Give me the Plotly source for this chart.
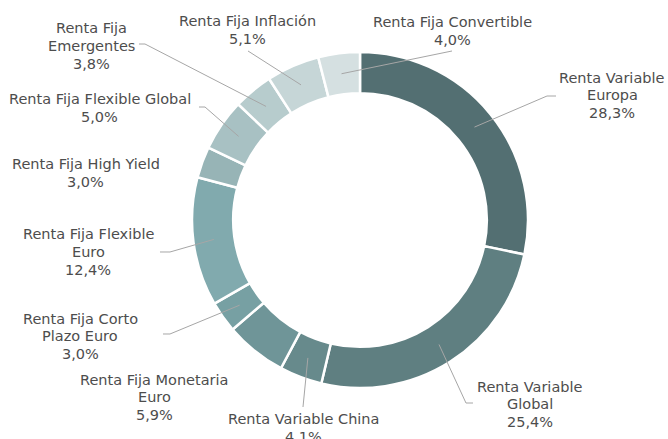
import math
import plotly.graph_objects as go

categories = [
    "Renta Variable Europa", "Renta Variable Global", "Renta Variable China",
    "Renta Fija Monetaria Euro", "Renta Fija Corto Plazo Euro", "Renta Fija Flexible Euro",
    "Renta Fija High Yield", "Renta Fija Flexible Global", "Renta Fija Emergentes",
    "Renta Fija Inflación", "Renta Fija Convertible",
]
values = [28.3, 25.4, 4.1, 5.9, 3.0, 12.4, 3.0, 5.0, 3.8, 5.1, 4.0]
label_lines = [
    ["Renta Variable", "Europa"], ["Renta Variable", "Global"], ["Renta Variable China"],
    ["Renta Fija Monetaria", "Euro"], ["Renta Fija Corto", "Plazo Euro"], ["Renta Fija Flexible", "Euro"],
    ["Renta Fija High Yield"], ["Renta Fija Flexible Global"], ["Renta Fija", "Emergentes"],
    ["Renta Fija Inflación"], ["Renta Fija Convertible"],
]
colors = ["#536f72", "#5f7f81", "#678a8c", "#6f9598", "#77a0a3", "#81aaae",
          "#97b4b6", "#a8c1c3", "#b7cccd", "#c6d6d7", "#d5e0e1"]

W, H = 668, 439
CX, CY, R_OUT, HOLE = 360, 220, 168, 0.755
LINE_H = 17.5

# label text centres (pixels) and leader-line elbow/end points (pixels)
label_pos = [(612, 95), (530, 404), (303, 428), (154, 397), (80, 336), (88, 252),
             (86, 173), (100, 108), (91, 46), (247, 30), (452, 31)]
leaders = [
    [(547, 96), (556, 96)], [(466, 403), (473, 403)], [(303, 407)], None,
    [(170, 334), (163, 334)], [(170, 252), (160, 252)], None,
    [(205, 107), (199, 107)], [(145, 44), (139, 44)], [(248, 51)], [(452, 51)],
]

def px(x):
    return x / W

def py(y):
    return 1 - y / H

fig = go.Figure(go.Pie(
    labels=categories, values=values, hole=HOLE, sort=False, direction="clockwise",
    rotation=0, textinfo="none", hoverinfo="label+percent",
    marker=dict(colors=colors, line=dict(color="white", width=2.5)),
    domain=dict(x=[px(CX - R_OUT), px(CX + R_OUT)], y=[py(CY + R_OUT), py(CY - R_OUT)]),
    showlegend=False,
))

total = sum(values)
cum = 0
shapes = []
annotations = []
r_mid = R_OUT * (1 + HOLE) / 2
for i, v in enumerate(values):
    mid = (cum + v / 2) / total * 2 * math.pi
    cum += v
    sx = CX + r_mid * math.sin(mid)
    sy = CY - r_mid * math.cos(mid)
    if leaders[i]:
        pts = [(sx, sy)] + leaders[i]
        path = "M " + " L ".join(f"{px(a):.5f},{py(b):.5f}" for a, b in pts)
        shapes.append(dict(type="path", path=path, xref="paper", yref="paper",
                           line=dict(color="#a6a6a6", width=1)))
    pct = f"{v:.1f}".replace(".", ",") + "%"
    lines = label_lines[i] + [pct]
    lx, ly = label_pos[i]
    n = len(lines)
    for k, t in enumerate(lines):
        yy = ly + (k - (n - 1) / 2) * LINE_H
        annotations.append(dict(x=px(lx), y=py(yy), xref="paper", yref="paper", text=t,
                                showarrow=False, xanchor="center", yanchor="middle",
                                align="center",
                                font=dict(family="Verdana, DejaVu Sans", size=14.5, color="#4d4d4d")))

fig.update_layout(width=W, height=H, margin=dict(l=0, r=0, t=0, b=0),
                  paper_bgcolor="white", plot_bgcolor="white",
                  shapes=shapes, annotations=annotations)
fig.write_html("out.html")
